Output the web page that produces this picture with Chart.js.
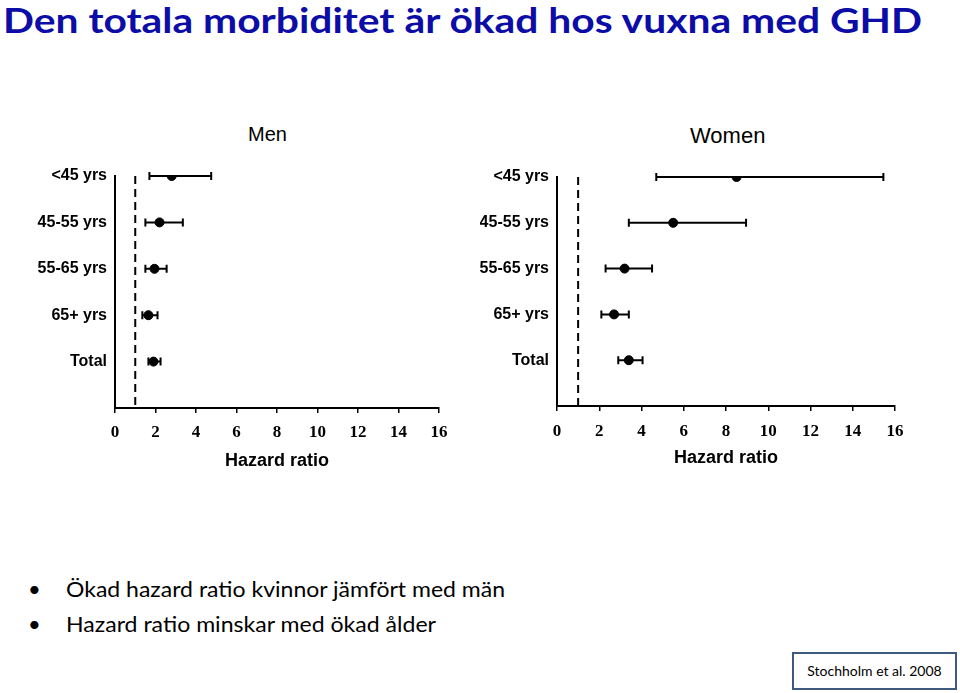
<!DOCTYPE html>
<html>
<head>
<meta charset="utf-8">
<script src="https://cdn.jsdelivr.net/npm/chart.js@4.4.1/dist/chart.umd.min.js"></script>
<style>
  html, body { margin: 0; padding: 0; background: #fff; }
  #slide { position: relative; width: 960px; height: 693px; overflow: hidden; background: #fff; }
  .txt { position: absolute; white-space: nowrap; transform-origin: left top; }
  #title { left: 3px; top: 3px; font: bold 34px Lato, sans-serif; line-height: 34px; color: #0c0ca6; }
  .bul { font: 22px Lato, sans-serif; line-height: 22px; color: #000; }
  .dot { position: absolute; font: 22px Lato, sans-serif; line-height: 22px; }
  .head { font-family: "Liberation Sans", Arial, sans-serif; color: #000; }
  .panel { position: absolute; top: 110px; }
  #cite { position: absolute; left: 792px; top: 652px; width: 161px; height: 34px; border: 2.5px solid #3e5a7e;
          font: 14px Lato, sans-serif; line-height: 34px; text-align: center; color: #000; }
</style>
</head>
<body>
<div id="slide">
  <div id="title" class="txt">Den totala morbiditet är ökad hos vuxna med GHD</div>

  <div class="txt head" style="left:248px; top:124px; font-size:20px; line-height:20px;">Men</div>
  <div class="txt head" style="left:690px; top:125px; font-size:22px; line-height:22px;">Women</div>

  <canvas id="menChart" class="panel" style="left:0px;" width="480" height="370"></canvas>
  <canvas id="womenChart" class="panel" style="left:480px;" width="480" height="370"></canvas>

  <div class="dot" style="left:28px; top:578px;">•</div>
  <div id="b1" class="txt bul" style="left:66px; top:578px;">Ökad hazard ratio kvinnor jämfört med män</div>
  <div class="dot" style="left:28px; top:613px;">•</div>
  <div id="b2" class="txt bul" style="left:66px; top:613px;">Hazard ratio minskar med ökad ålder</div>

  <div id="cite">Stochholm et al. 2008</div>
</div>

<script>
  // rows, top to bottom
  const categories = ['<45 yrs', '45-55 yrs', '55-65 yrs', '65+ yrs', 'Total'];
  const hrTicks = [0, 2, 4, 6, 8, 10, 12, 14, 16];
  const refLine = 1;

  // Men: hazard ratio with 95% CI
  const menHR   = [2.8, 2.2, 1.95, 1.65, 1.9];
  const menLow  = [1.7, 1.5, 1.5, 1.35, 1.65];
  const menHigh = [4.75, 3.35, 2.55, 2.1, 2.25];

  // Women
  const womenHR   = [8.5, 5.5, 3.2, 2.7, 3.4];
  const womenLow  = [4.7, 3.4, 2.3, 2.1, 2.9];
  const womenHigh = [15.45, 8.95, 4.5, 3.4, 4.05];

  // whiskers + caps, drawn under the points
  const errorBars = {
    id: 'errorBars',
    beforeDatasetsDraw(chart, args, opts) {
      const ctx = chart.ctx;
      const x = chart.scales.x, y = chart.scales.y;
      ctx.save();
      ctx.strokeStyle = '#000';
      ctx.lineWidth = 2;
      opts.low.forEach(function (lo, i) {
        const py = y.getPixelForValue(i);
        const x1 = x.getPixelForValue(lo);
        const x2 = x.getPixelForValue(opts.high[i]);
        ctx.beginPath();
        ctx.moveTo(x1, py); ctx.lineTo(x2, py);
        ctx.moveTo(x1, py - 4); ctx.lineTo(x1, py + 4);
        ctx.moveTo(x2, py - 4); ctx.lineTo(x2, py + 4);
        ctx.stroke();
      });
      ctx.restore();
    }
  };

  function makeForest(id, hr, low, high, box) {
    new Chart(document.getElementById(id), {
      type: 'scatter',
      data: {
        datasets: [
          {
            type: 'line',
            data: [{ x: refLine, y: 0 }, { x: refLine, y: categories.length }],
            borderColor: '#000',
            borderWidth: 2,
            borderDash: [8, 5],
            pointRadius: 0
          },
          {
            data: hr.map((v, i) => ({ x: v, y: i })),
            pointRadius: 4.5,
            backgroundColor: '#000',
            borderColor: '#000'
          }
        ]
      },
      options: {
        responsive: false,
        animation: false,
        layout: { padding: { top: box.top, right: box.right, left: 0, bottom: 0 } },
        plugins: {
          legend: { display: false },
          tooltip: { enabled: false },
          errorBars: { low: low, high: high }
        },
        scales: {
          x: {
            type: 'linear',
            min: 0,
            max: 16,
            afterBuildTicks: s => { s.ticks = hrTicks.map(v => ({ value: v })); },
            afterFit: s => { s.height = box.xh; },
            grid: { drawOnChartArea: false, drawTicks: true, tickLength: 5, color: '#000', lineWidth: 1.5 },
            border: { color: '#000', width: 2 },
            ticks: {
              color: '#000',
              autoSkip: false,
              maxRotation: 0,
              padding: box.tickPad,
              font: { family: '"Liberation Serif", "Times New Roman", serif', size: 17, weight: 'bold' }
            },
            title: {
              display: true,
              text: 'Hazard ratio',
              color: '#000',
              font: { family: '"Liberation Sans", Arial, sans-serif', size: 18, weight: 'bold' },
              padding: { top: 0, bottom: box.titlePad }
            }
          },
          y: {
            type: 'linear',
            reverse: true,
            min: 0,
            max: categories.length,
            afterBuildTicks: s => { s.ticks = categories.map((c, i) => ({ value: i })); },
            afterFit: s => { s.width = box.left; },
            grid: { display: false, drawTicks: false },
            border: { color: '#000', width: 2 },
            ticks: {
              color: '#000',
              autoSkip: false,
              padding: 8,
              callback: v => categories[v],
              font: { family: '"Liberation Sans", Arial, sans-serif', size: 16, weight: 'bold' }
            }
          }
        }
      },
      plugins: [errorBars]
    });
  }

  makeForest('menChart', menHR, menLow, menHigh, { left: 115, right: 41, top: 66, xh: 72, tickPad: 9, titlePad: 8 });
  makeForest('womenChart', womenHR, womenLow, womenHigh, { left: 77, right: 65, top: 67, xh: 74, tickPad: 10, titlePad: 11 });

  // squeeze the slide texts to the widths of the original
  function fitWidth(id, w) {
    const el = document.getElementById(id);
    const r = el.getBoundingClientRect().width;
    el.style.transform = 'scaleX(' + (w / r) + ')';
  }
  fitWidth('title', 919);
  fitWidth('b1', 439);
  fitWidth('b2', 370);
</script>
</body>
</html>
